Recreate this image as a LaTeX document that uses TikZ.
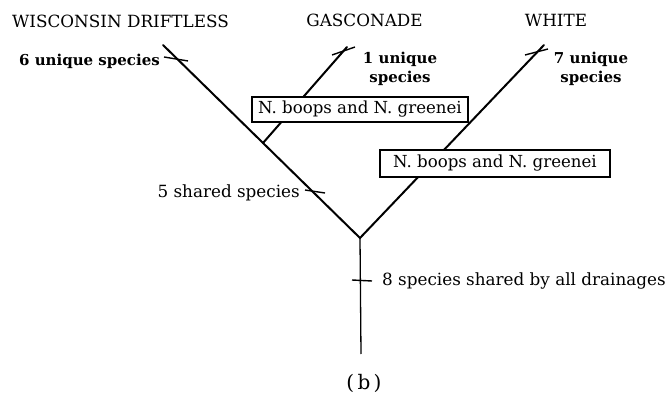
\documentclass[tikz,border=0pt]{standalone}
\usepackage{fontspec}
\setmainfont{DejaVu Serif}
\begin{document}
\begin{tikzpicture}[x=1pt,y=-1pt,
  branch/.style={line width=2pt,line cap=round},
  stemline/.style={line width=1.3pt},
  tick/.style={line width=1.4pt},
  title/.style={font=\fontsize{16.8}{18}\selectfont,inner sep=0pt},
  plain/.style={font=\fontsize{16.8}{19}\selectfont,inner sep=0pt},
  bold/.style={font=\bfseries\fontsize{15}{19}\selectfont,inner sep=0pt,align=center},
  tag/.style={draw,line width=1.3pt,fill=white,font=\fontsize{16.6}{19}\selectfont,inner sep=0pt}]
\useasboundingbox (0,0) rectangle (667,401);

% tree skeleton
\coordinate (root) at (360,238);
\coordinate (base) at (361,354);
\coordinate (wis) at (163,45);
\coordinate (junc) at (263,143);
\coordinate (gas) at (347,47);
\coordinate (whi) at (544,45);

\draw[branch] (wis) -- (root) -- (whi);
\draw[branch] (junc) -- (gas);
\draw[stemline] (root) -- (base);

% character ticks
\coordinate (t6a) at (164,57);  \coordinate (t6b) at (188,61);
\coordinate (t1a) at (332,55);  \coordinate (t1b) at (355,47);
\coordinate (t7a) at (525,55);  \coordinate (t7b) at (548,49);
\coordinate (t5a) at (305,190); \coordinate (t5b) at (325,193);
\coordinate (t8a) at (352,280); \coordinate (t8b) at (372,281);
\draw[tick] (t6a) -- (t6b);
\draw[tick] (t1a) -- (t1b);
\draw[tick] (t7a) -- (t7b);
\draw[tick] (t5a) -- (t5b);
\draw[tick] (t8a) -- (t8b);

% drainage names
\node[title] (nwis) at (120.5,21) {WISCONSIN DRIFTLESS};
\node[title] (ngas) at (364.5,20) {GASCONADE};
\node[title] (nwhi) at (556,20) {WHITE};

% tick labels
\node[bold,anchor=east] (l6) at (160,61) {6 unique species};
\node[bold] (l1) at (400,68.5) {1 unique\\species};
\node[bold] (l7) at (591,68.5) {7 unique\\species};
\node[plain,anchor=east] (l5) at (300,193) {5 shared species};
\node[plain,anchor=west] (l8) at (382,281) {8 species shared by all drainages};

% boxed labels
\node[tag,minimum width=216pt,minimum height=25pt] (b1) at (360,109.5) {N. boops and N. greenei};
\node[tag,minimum width=230pt,minimum height=27pt] (b2) at (495,163.5) {N. boops and N. greenei};

\node[font=\fontsize{20}{22}\selectfont,inner sep=0pt] (cap) at (364,383) {(\,b\,)};
\end{tikzpicture}
\end{document}
